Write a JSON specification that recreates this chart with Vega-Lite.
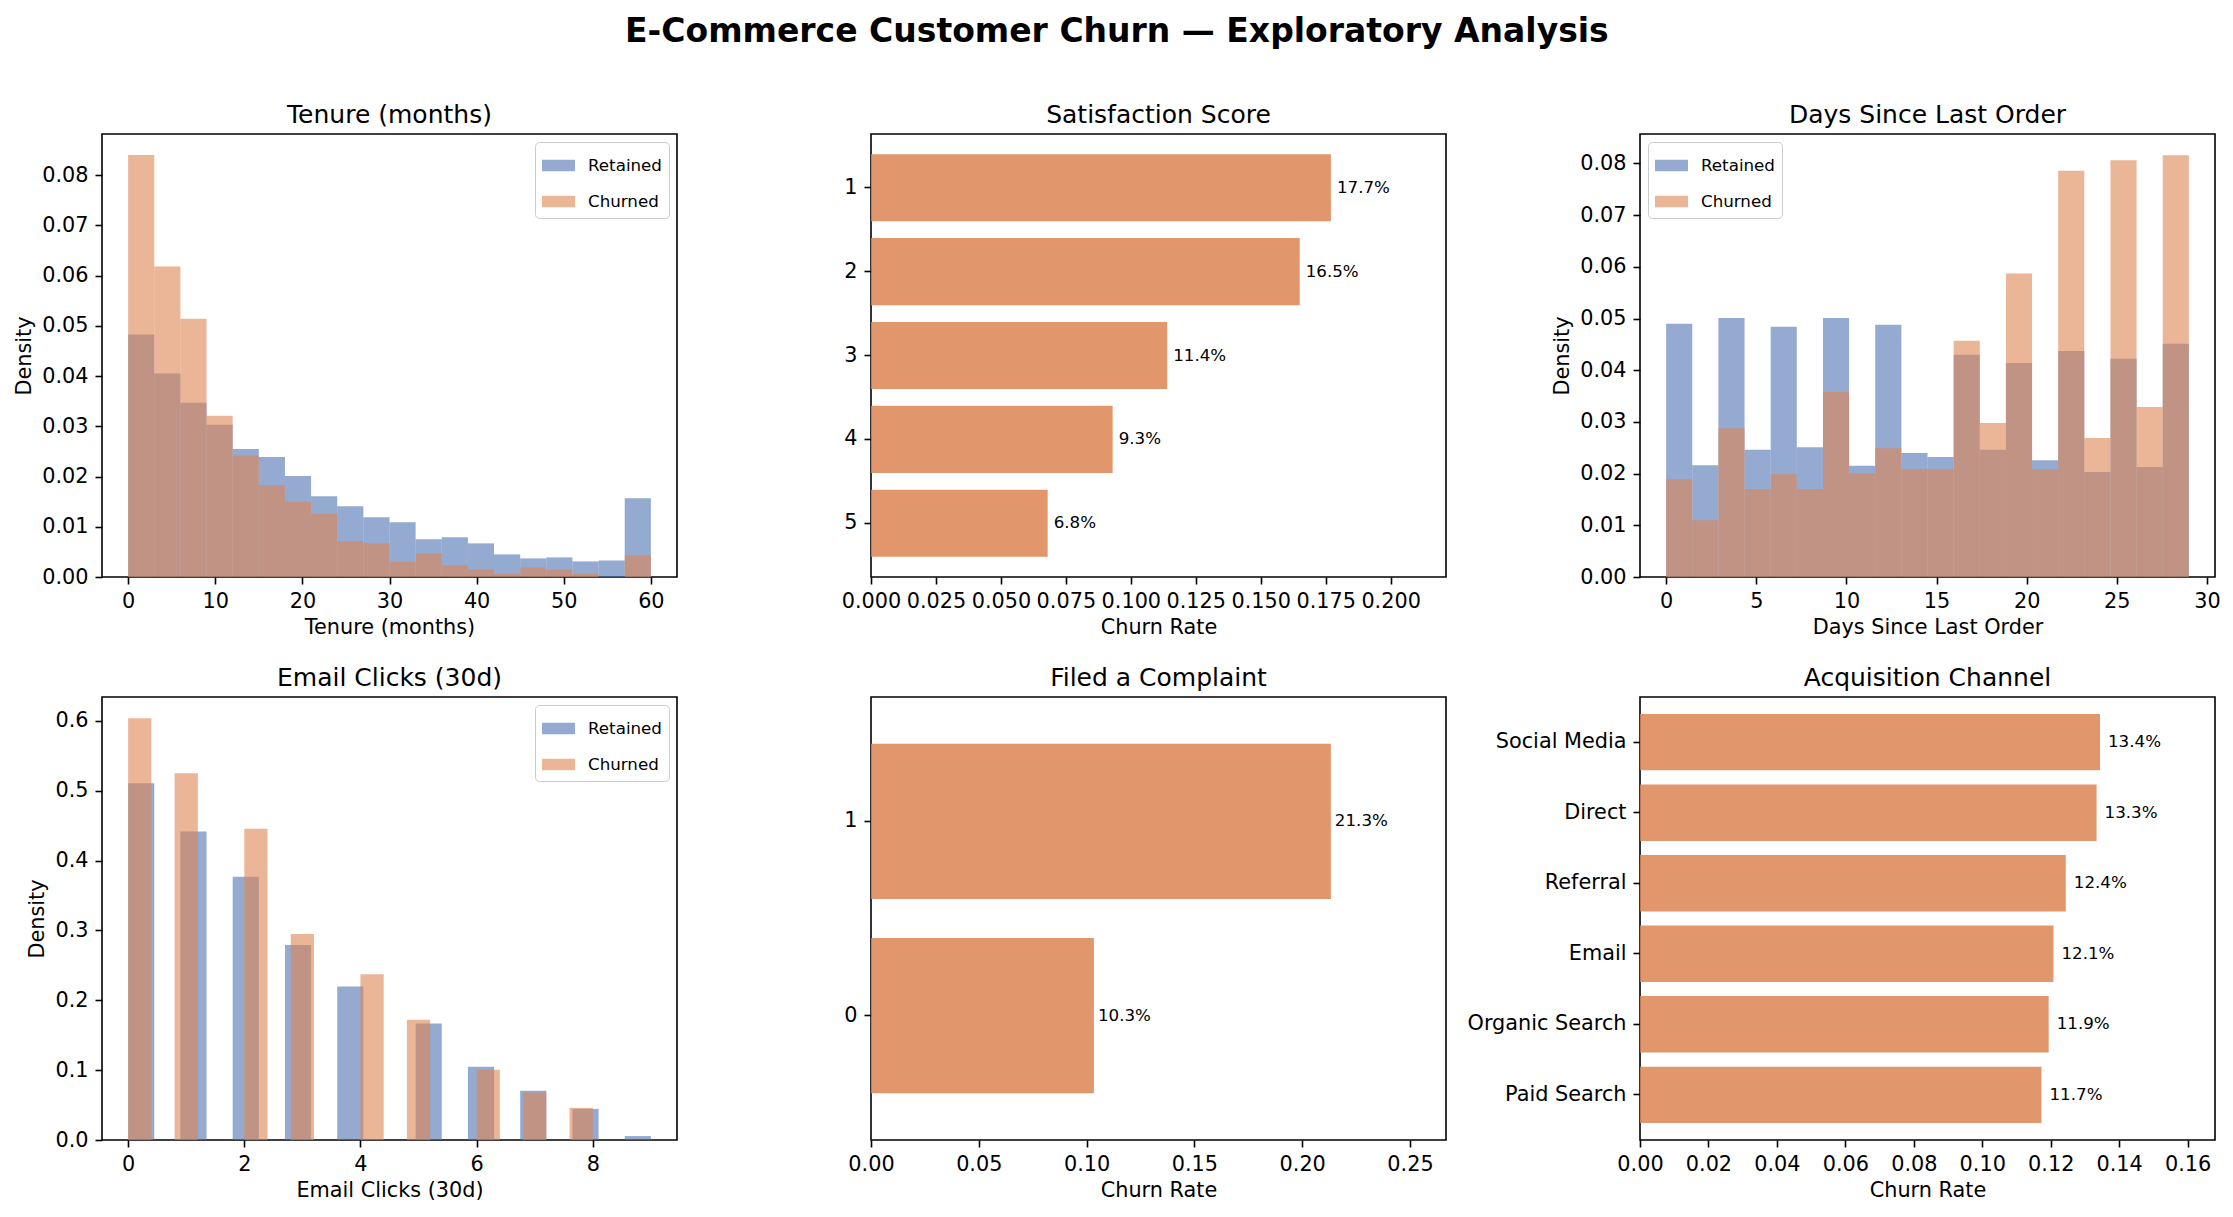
{
  "$schema": "https://vega.github.io/schema/vega-lite/v6.json",
  "padding": {"left": 12, "top": 16, "right": 5, "bottom": 5},
  "background": "white",
  "title": {"text": "E-Commerce Customer Churn — Exploratory Analysis", "fontSize": 33, "fontWeight": "bold", "anchor": "middle", "baseline": "alphabetic", "offset": 27},
  "datasets": {
    "tenure": [
      {"group": "Retained", "x0": 0, "x1": 3, "density": 0.0483},
      {"group": "Retained", "x0": 3, "x1": 6, "density": 0.0405},
      {"group": "Retained", "x0": 6, "x1": 9, "density": 0.0347},
      {"group": "Retained", "x0": 9, "x1": 12, "density": 0.0303},
      {"group": "Retained", "x0": 12, "x1": 15, "density": 0.0255},
      {"group": "Retained", "x0": 15, "x1": 18, "density": 0.0239},
      {"group": "Retained", "x0": 18, "x1": 21, "density": 0.0201},
      {"group": "Retained", "x0": 21, "x1": 24, "density": 0.0161},
      {"group": "Retained", "x0": 24, "x1": 27, "density": 0.0141},
      {"group": "Retained", "x0": 27, "x1": 30, "density": 0.0119},
      {"group": "Retained", "x0": 30, "x1": 33, "density": 0.0109},
      {"group": "Retained", "x0": 33, "x1": 36, "density": 0.0075},
      {"group": "Retained", "x0": 36, "x1": 39, "density": 0.0079},
      {"group": "Retained", "x0": 39, "x1": 42, "density": 0.0067},
      {"group": "Retained", "x0": 42, "x1": 45, "density": 0.0045},
      {"group": "Retained", "x0": 45, "x1": 48, "density": 0.0037},
      {"group": "Retained", "x0": 48, "x1": 51, "density": 0.0039},
      {"group": "Retained", "x0": 51, "x1": 54, "density": 0.0031},
      {"group": "Retained", "x0": 54, "x1": 57, "density": 0.0033},
      {"group": "Retained", "x0": 57, "x1": 60, "density": 0.0157},
      {"group": "Churned", "x0": 0, "x1": 3, "density": 0.0840},
      {"group": "Churned", "x0": 3, "x1": 6, "density": 0.0618},
      {"group": "Churned", "x0": 6, "x1": 9, "density": 0.0514},
      {"group": "Churned", "x0": 9, "x1": 12, "density": 0.0321},
      {"group": "Churned", "x0": 12, "x1": 15, "density": 0.0242},
      {"group": "Churned", "x0": 15, "x1": 18, "density": 0.0183},
      {"group": "Churned", "x0": 18, "x1": 21, "density": 0.0150},
      {"group": "Churned", "x0": 21, "x1": 24, "density": 0.0126},
      {"group": "Churned", "x0": 24, "x1": 27, "density": 0.0071},
      {"group": "Churned", "x0": 27, "x1": 30, "density": 0.0067},
      {"group": "Churned", "x0": 30, "x1": 33, "density": 0.0030},
      {"group": "Churned", "x0": 33, "x1": 36, "density": 0.0047},
      {"group": "Churned", "x0": 36, "x1": 39, "density": 0.0023},
      {"group": "Churned", "x0": 39, "x1": 42, "density": 0.0015},
      {"group": "Churned", "x0": 42, "x1": 45, "density": 0.0006},
      {"group": "Churned", "x0": 45, "x1": 48, "density": 0.0019},
      {"group": "Churned", "x0": 48, "x1": 51, "density": 0.0015},
      {"group": "Churned", "x0": 51, "x1": 54, "density": 0.0006},
      {"group": "Churned", "x0": 54, "x1": 57, "density": 0.0},
      {"group": "Churned", "x0": 57, "x1": 60, "density": 0.0043}
    ],
    "days": [
      {"group": "Retained", "x0": 0, "x1": 1.45, "density": 0.0490},
      {"group": "Retained", "x0": 1.45, "x1": 2.9, "density": 0.0216},
      {"group": "Retained", "x0": 2.9, "x1": 4.35, "density": 0.0501},
      {"group": "Retained", "x0": 4.35, "x1": 5.8, "density": 0.0246},
      {"group": "Retained", "x0": 5.8, "x1": 7.25, "density": 0.0484},
      {"group": "Retained", "x0": 7.25, "x1": 8.7, "density": 0.0251},
      {"group": "Retained", "x0": 8.7, "x1": 10.15, "density": 0.0501},
      {"group": "Retained", "x0": 10.15, "x1": 11.6, "density": 0.0215},
      {"group": "Retained", "x0": 11.6, "x1": 13.05, "density": 0.0488},
      {"group": "Retained", "x0": 13.05, "x1": 14.5, "density": 0.0240},
      {"group": "Retained", "x0": 14.5, "x1": 15.95, "density": 0.0232},
      {"group": "Retained", "x0": 15.95, "x1": 17.4, "density": 0.0430},
      {"group": "Retained", "x0": 17.4, "x1": 18.85, "density": 0.0246},
      {"group": "Retained", "x0": 18.85, "x1": 20.3, "density": 0.0414},
      {"group": "Retained", "x0": 20.3, "x1": 21.75, "density": 0.0226},
      {"group": "Retained", "x0": 21.75, "x1": 23.2, "density": 0.0437},
      {"group": "Retained", "x0": 23.2, "x1": 24.65, "density": 0.0203},
      {"group": "Retained", "x0": 24.65, "x1": 26.1, "density": 0.0422},
      {"group": "Retained", "x0": 26.1, "x1": 27.55, "density": 0.0213},
      {"group": "Retained", "x0": 27.55, "x1": 29, "density": 0.0451},
      {"group": "Churned", "x0": 0, "x1": 1.45, "density": 0.0189},
      {"group": "Churned", "x0": 1.45, "x1": 2.9, "density": 0.0110},
      {"group": "Churned", "x0": 2.9, "x1": 4.35, "density": 0.0288},
      {"group": "Churned", "x0": 4.35, "x1": 5.8, "density": 0.0170},
      {"group": "Churned", "x0": 5.8, "x1": 7.25, "density": 0.0199},
      {"group": "Churned", "x0": 7.25, "x1": 8.7, "density": 0.0170},
      {"group": "Churned", "x0": 8.7, "x1": 10.15, "density": 0.0358},
      {"group": "Churned", "x0": 10.15, "x1": 11.6, "density": 0.0200},
      {"group": "Churned", "x0": 11.6, "x1": 13.05, "density": 0.0249},
      {"group": "Churned", "x0": 13.05, "x1": 14.5, "density": 0.0209},
      {"group": "Churned", "x0": 14.5, "x1": 15.95, "density": 0.0209},
      {"group": "Churned", "x0": 15.95, "x1": 17.4, "density": 0.0457},
      {"group": "Churned", "x0": 17.4, "x1": 18.85, "density": 0.0298},
      {"group": "Churned", "x0": 18.85, "x1": 20.3, "density": 0.0587},
      {"group": "Churned", "x0": 20.3, "x1": 21.75, "density": 0.0209},
      {"group": "Churned", "x0": 21.75, "x1": 23.2, "density": 0.0786},
      {"group": "Churned", "x0": 23.2, "x1": 24.65, "density": 0.0269},
      {"group": "Churned", "x0": 24.65, "x1": 26.1, "density": 0.0806},
      {"group": "Churned", "x0": 26.1, "x1": 27.55, "density": 0.0329},
      {"group": "Churned", "x0": 27.55, "x1": 29, "density": 0.0816}
    ],
    "email": [
      {"group": "Retained", "x0": 0, "x1": 0.45, "density": 0.5105},
      {"group": "Retained", "x0": 0.9, "x1": 1.35, "density": 0.4415},
      {"group": "Retained", "x0": 1.8, "x1": 2.25, "density": 0.3766},
      {"group": "Retained", "x0": 2.7, "x1": 3.15, "density": 0.2790},
      {"group": "Retained", "x0": 3.6, "x1": 4.05, "density": 0.2197},
      {"group": "Retained", "x0": 4.95, "x1": 5.4, "density": 0.1666},
      {"group": "Retained", "x0": 5.85, "x1": 6.3, "density": 0.1048},
      {"group": "Retained", "x0": 6.75, "x1": 7.2, "density": 0.0705},
      {"group": "Retained", "x0": 7.65, "x1": 8.1, "density": 0.0445},
      {"group": "Retained", "x0": 8.55, "x1": 9.0, "density": 0.0056},
      {"group": "Churned", "x0": 0, "x1": 0.4, "density": 0.6035},
      {"group": "Churned", "x0": 0.8, "x1": 1.2, "density": 0.5248},
      {"group": "Churned", "x0": 2.0, "x1": 2.4, "density": 0.4456},
      {"group": "Churned", "x0": 2.8, "x1": 3.2, "density": 0.2948},
      {"group": "Churned", "x0": 4.0, "x1": 4.4, "density": 0.2371},
      {"group": "Churned", "x0": 4.8, "x1": 5.2, "density": 0.1722},
      {"group": "Churned", "x0": 6.0, "x1": 6.4, "density": 0.1007},
      {"group": "Churned", "x0": 6.8, "x1": 7.2, "density": 0.0680},
      {"group": "Churned", "x0": 7.6, "x1": 8.0, "density": 0.0460}
    ],
    "satisfaction": [
      {"category": "1", "rate": 0.177},
      {"category": "2", "rate": 0.165},
      {"category": "3", "rate": 0.114},
      {"category": "4", "rate": 0.093},
      {"category": "5", "rate": 0.068}
    ],
    "complaint": [
      {"category": "1", "rate": 0.2133},
      {"category": "0", "rate": 0.1034}
    ],
    "channel": [
      {"category": "Social Media", "rate": 0.1344},
      {"category": "Direct", "rate": 0.1334},
      {"category": "Referral", "rate": 0.1244},
      {"category": "Email", "rate": 0.1208},
      {"category": "Organic Search", "rate": 0.1194},
      {"category": "Paid Search", "rate": 0.1173}
    ]
  },
  "columns": 3,
  "spacing": {"row": 120, "column": 194},
  "bounds": "flush",
  "resolve": {"scale": {"color": "independent", "x": "independent", "y": "independent"}, "legend": {"color": "independent"}},
  "concat": [
    {
      "title": "Tenure (months)",
      "width": 575, "height": 443,
      "data": {"name": "tenure"},
      "mark": {"type": "bar", "opacity": 0.6, "strokeWidth": 0},
      "encoding": {
        "x": {"field": "x0", "type": "quantitative", "scale": {"domain": [-3, 63], "nice": false, "zero": false}, "axis": {"title": "Tenure (months)", "values": [0, 10, 20, 30, 40, 50, 60], "format": "d"}},
        "x2": {"field": "x1"},
        "y": {"field": "density", "type": "quantitative", "stack": null, "scale": {"domain": [0, 0.0882], "nice": false}, "axis": {"title": "Density", "values": [0, 0.01, 0.02, 0.03, 0.04, 0.05, 0.06, 0.07, 0.08], "format": ".2f"}},
        "y2": {"datum": 0},
        "color": {"field": "group", "type": "nominal", "scale": {"domain": ["Retained", "Churned"], "range": ["#4C72B0", "#DD8452"]}, "legend": {"title": null, "orient": "top-right"}}
      }
    },
    {
      "title": "Satisfaction Score",
      "width": 575, "height": 443,
      "data": {"name": "satisfaction"},
      "encoding": {
        "y": {"field": "category", "type": "nominal", "sort": null, "scale": {"paddingInner": 0.2, "paddingOuter": 0.24}, "axis": {"title": null, "labelAngle": 0}},
        "x": {"field": "rate", "type": "quantitative", "scale": {"domain": [0, 0.2213], "nice": false}, "axis": {"title": "Churn Rate", "values": [0, 0.025, 0.05, 0.075, 0.1, 0.125, 0.15, 0.175, 0.2], "format": ".3f"}}
      },
      "layer": [
        {"mark": {"type": "bar", "color": "#DD8452", "opacity": 0.85}},
        {"mark": {"type": "text", "align": "left", "baseline": "middle", "dx": 6, "fontSize": 16.7, "color": "black"}, "encoding": {"text": {"field": "rate", "type": "quantitative", "format": ".1%"}}}
      ]
    },
    {
      "title": "Days Since Last Order",
      "width": 575, "height": 443,
      "data": {"name": "days"},
      "mark": {"type": "bar", "opacity": 0.6, "strokeWidth": 0},
      "encoding": {
        "x": {"field": "x0", "type": "quantitative", "scale": {"domain": [-1.45, 30.45], "nice": false, "zero": false}, "axis": {"title": "Days Since Last Order", "values": [0, 5, 10, 15, 20, 25, 30], "format": "d"}},
        "x2": {"field": "x1"},
        "y": {"field": "density", "type": "quantitative", "stack": null, "scale": {"domain": [0, 0.0857], "nice": false}, "axis": {"title": "Density", "values": [0, 0.01, 0.02, 0.03, 0.04, 0.05, 0.06, 0.07, 0.08], "format": ".2f"}},
        "y2": {"datum": 0},
        "color": {"field": "group", "type": "nominal", "scale": {"domain": ["Retained", "Churned"], "range": ["#4C72B0", "#DD8452"]}, "legend": {"title": null, "orient": "top-left"}}
      }
    },
    {
      "title": "Email Clicks (30d)",
      "width": 575, "height": 443,
      "data": {"name": "email"},
      "mark": {"type": "bar", "opacity": 0.6, "strokeWidth": 0},
      "encoding": {
        "x": {"field": "x0", "type": "quantitative", "scale": {"domain": [-0.45, 9.45], "nice": false, "zero": false}, "axis": {"title": "Email Clicks (30d)", "values": [0, 2, 4, 6, 8], "format": "d"}},
        "x2": {"field": "x1"},
        "y": {"field": "density", "type": "quantitative", "stack": null, "scale": {"domain": [0, 0.634], "nice": false}, "axis": {"title": "Density", "values": [0, 0.1, 0.2, 0.3, 0.4, 0.5, 0.6], "format": ".1f"}},
        "y2": {"datum": 0},
        "color": {"field": "group", "type": "nominal", "scale": {"domain": ["Retained", "Churned"], "range": ["#4C72B0", "#DD8452"]}, "legend": {"title": null, "orient": "top-right"}}
      }
    },
    {
      "title": "Filed a Complaint",
      "width": 575, "height": 443,
      "data": {"name": "complaint"},
      "encoding": {
        "y": {"field": "category", "type": "nominal", "sort": null, "scale": {"paddingInner": 0.2, "paddingOuter": 0.24}, "axis": {"title": null, "labelAngle": 0}},
        "x": {"field": "rate", "type": "quantitative", "scale": {"domain": [0, 0.2667], "nice": false}, "axis": {"title": "Churn Rate", "values": [0, 0.05, 0.1, 0.15, 0.2, 0.25], "format": ".2f"}}
      },
      "layer": [
        {"mark": {"type": "bar", "color": "#DD8452", "opacity": 0.85}},
        {"mark": {"type": "text", "align": "left", "baseline": "middle", "dx": 4, "fontSize": 16.7, "color": "black"}, "encoding": {"text": {"field": "rate", "type": "quantitative", "format": ".1%"}}}
      ]
    },
    {
      "title": "Acquisition Channel",
      "width": 575, "height": 443,
      "data": {"name": "channel"},
      "encoding": {
        "y": {"field": "category", "type": "nominal", "sort": null, "scale": {"paddingInner": 0.2, "paddingOuter": 0.24}, "axis": {"title": null, "labelAngle": 0}},
        "x": {"field": "rate", "type": "quantitative", "scale": {"domain": [0, 0.168], "nice": false}, "axis": {"title": "Churn Rate", "values": [0, 0.02, 0.04, 0.06, 0.08, 0.1, 0.12, 0.14, 0.16], "format": ".2f"}}
      },
      "layer": [
        {"mark": {"type": "bar", "color": "#DD8452", "opacity": 0.85}},
        {"mark": {"type": "text", "align": "left", "baseline": "middle", "dx": 8, "fontSize": 16.7, "color": "black"}, "encoding": {"text": {"field": "rate", "type": "quantitative", "format": ".1%"}}}
      ]
    }
  ],
  "config": {
    "font": "DejaVu Sans",
    "view": {"stroke": "black", "strokeWidth": 1.6},
    "axis": {
      "grid": false, "domain": false,
      "tickColor": "black", "tickSize": 7, "tickWidth": 1.6,
      "labelFont": "DejaVu Sans", "labelFontSize": 20.8, "labelColor": "black", "labelPadding": 7,
      "titleFont": "DejaVu Sans", "titleFontSize": 20.8, "titleFontWeight": "normal", "titleColor": "black", "titlePadding": 7
    },
    "axisX": {"labelFlush": false, "labelOverlap": false},
    "axisY": {"labelOverlap": false},
    "title": {"font": "DejaVu Sans", "fontSize": 25, "fontWeight": "normal", "color": "black", "baseline": "alphabetic", "offset": 6, "anchor": "middle"},
    "legend": {
      "fillColor": "white", "strokeColor": "#cccccc", "cornerRadius": 4, "padding": 7, "offset": 8,
      "labelFont": "DejaVu Sans", "labelFontSize": 16.7, "labelColor": "black", "labelOffset": 13, "rowPadding": 10,
      "symbolType": "M-1,-0.35L1,-0.35L1,0.35L-1,0.35Z", "symbolSize": 1089, "symbolOpacity": 0.6, "symbolStrokeWidth": 0
    }
  }
}
